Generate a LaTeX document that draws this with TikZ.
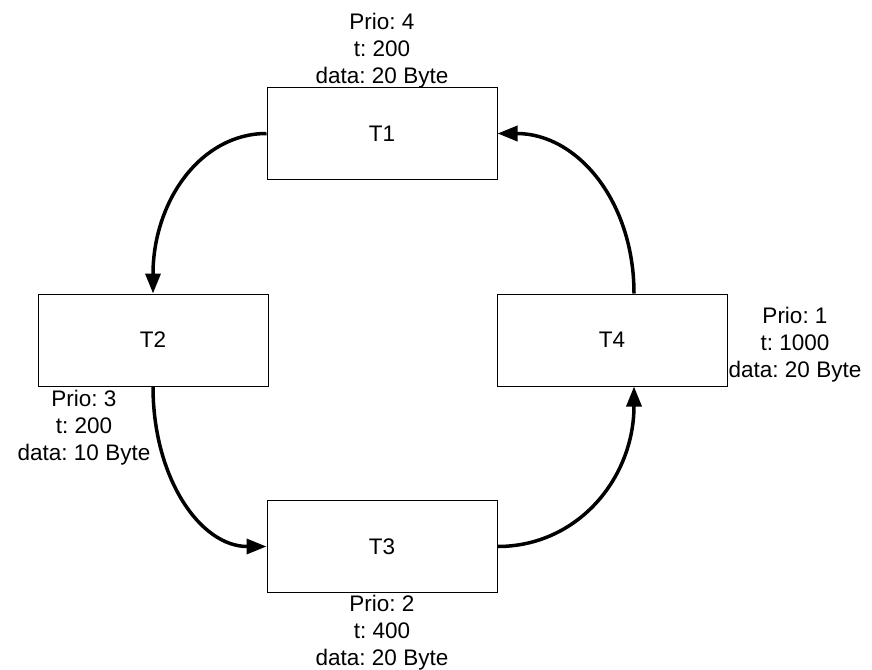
\documentclass[tikz,border=0pt]{standalone}
\usepackage{fontspec}
\setmainfont{Liberation Sans}
\usetikzlibrary{arrows.meta}
\frenchspacing
\begin{document}
\begin{tikzpicture}[x=1pt,y=-1pt,
 task/.style={draw, line width=1pt, minimum width=230pt, minimum height=92pt, inner sep=0pt, font=\fontsize{22.5}{27}\selectfont},
 info/.style={align=center, inner sep=0pt, font=\fontsize{22.5}{27}\selectfont},
 flow/.style={line width=3.5pt, -{Triangle[length=20pt,width=15pt]}}]
\useasboundingbox (0,0) rectangle (872,669);
\node[task] (T1) at (382,133.5) {T1};
\node[task] (T2) at (153,340) {T2};
\node[task] (T3) at (382,546.5) {T3};
\node[task] (T4) at (612,340) {T4};
\coordinate (T4b) at ([xshift=22pt]T4.south);
\coordinate (T4t) at ([xshift=22pt]T4.north);
\node[info] (L1) at (382,51) {Prio: 4\\t: 200\\data: 20 Byte};
\node[info] (L2) at (84,428) {Prio: 3\\t: 200\\data: 10 Byte};
\node[info] (L4) at (795,345) {Prio: 1\\t: 1000\\data: 20 Byte};
\node[info] (L3) at (382,633) {Prio: 2\\t: 400\\data: 20 Byte};
\draw[flow] (T1.west) .. controls +(-66,0) and +(0,-92) .. (T2.north);
\draw[flow] (T2.south) .. controls +(0,92) and +(-66,0) .. (T3.west);
\draw[flow] (T3.east) .. controls +(80,0) and +(0,92) .. (T4b);
\draw[flow] (T4t) .. controls +(0,-92) and +(80,0) .. (T1.east);
\end{tikzpicture}
\end{document}
